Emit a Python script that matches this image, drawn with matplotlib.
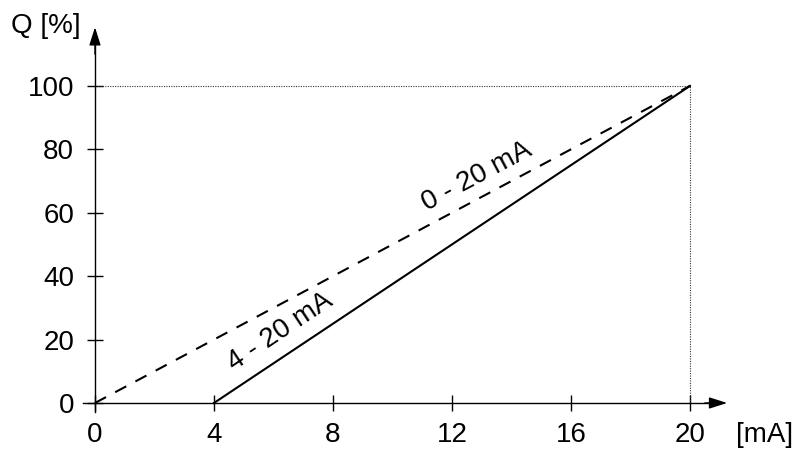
import matplotlib
matplotlib.use("Agg")
import matplotlib.pyplot as plt

# Data
current_0_20 = [0, 20]
q_0_20 = [0, 100]
current_4_20 = [4, 20]
q_4_20 = [0, 100]
x_ticks = [0, 4, 8, 12, 16, 20]
y_ticks = [0, 20, 40, 60, 80, 100]

plt.rcParams['font.family'] = ['Liberation Sans', 'DejaVu Sans']
FS = 20

fig = plt.figure(figsize=(8.0, 4.72), dpi=100)
ax = fig.add_axes([0, 0, 1, 1])
ax.set_xlim(-3.193, 23.70)
ax.set_ylim(-21.77, 127.1)
ax.patch.set_alpha(0)

for s in ['top', 'right']:
    ax.spines[s].set_visible(False)
ax.spines['bottom'].set_position(('data', 0))
ax.spines['left'].set_position(('data', 0))
ax.spines['bottom'].set_bounds(-0.4, 21.0)
ax.spines['left'].set_bounds(-2.8, 117.0)
ax.spines['bottom'].set_linewidth(1.0)
ax.spines['left'].set_linewidth(1.0)

ax.set_xticks(x_ticks)
ax.set_yticks(y_ticks)
ax.set_xticklabels([str(v) for v in x_ticks])
ax.set_yticklabels([str(v) for v in y_ticks])
ax.tick_params(axis='both', direction='inout', length=12, width=1.0,
               labelsize=FS, colors='black')
ax.tick_params(axis='x', pad=8)
ax.tick_params(axis='y', pad=9)

# arrow heads
ax.annotate('', xy=(21.25, 0), xytext=(20.5, 0),
            arrowprops=dict(arrowstyle='-|>,head_length=1.1,head_width=0.35',
                            color='black', lw=1.0, shrinkA=0, shrinkB=0))
ax.annotate('', xy=(0, 118.5), xytext=(0, 110),
            arrowprops=dict(arrowstyle='-|>,head_length=1.1,head_width=0.35',
                            color='black', lw=1.0, shrinkA=0, shrinkB=0))

# reference dotted lines
ax.plot([0, 20], [100, 100], linestyle=(0, (1, 1.2)), color='#333333', lw=0.8)
ax.plot([20, 20], [0, 100], linestyle=(0, (1, 1.2)), color='#333333', lw=0.8)

# series
ax.plot(current_0_20, q_0_20, linestyle=(0, (6, 5)), color='black', lw=1.5)
ax.plot(current_4_20, q_4_20, linestyle='-', color='black', lw=1.5)

ax.text(6.22, 22.6, '4 - 20 mA', rotation=33.7, rotation_mode='anchor',
        ha='center', va='center', fontsize=FS)
ax.text(12.84, 71.5, '0 - 20 mA', rotation=28.0, rotation_mode='anchor',
        ha='center', va='center', fontsize=FS)

ax.text(-1.65, 119.0, 'Q [%]', ha='center', va='center', fontsize=FS)
ax.text(22.5, -10.0, '[mA]', ha='center', va='center', fontsize=FS)

fig.savefig('out.png', dpi=100)
